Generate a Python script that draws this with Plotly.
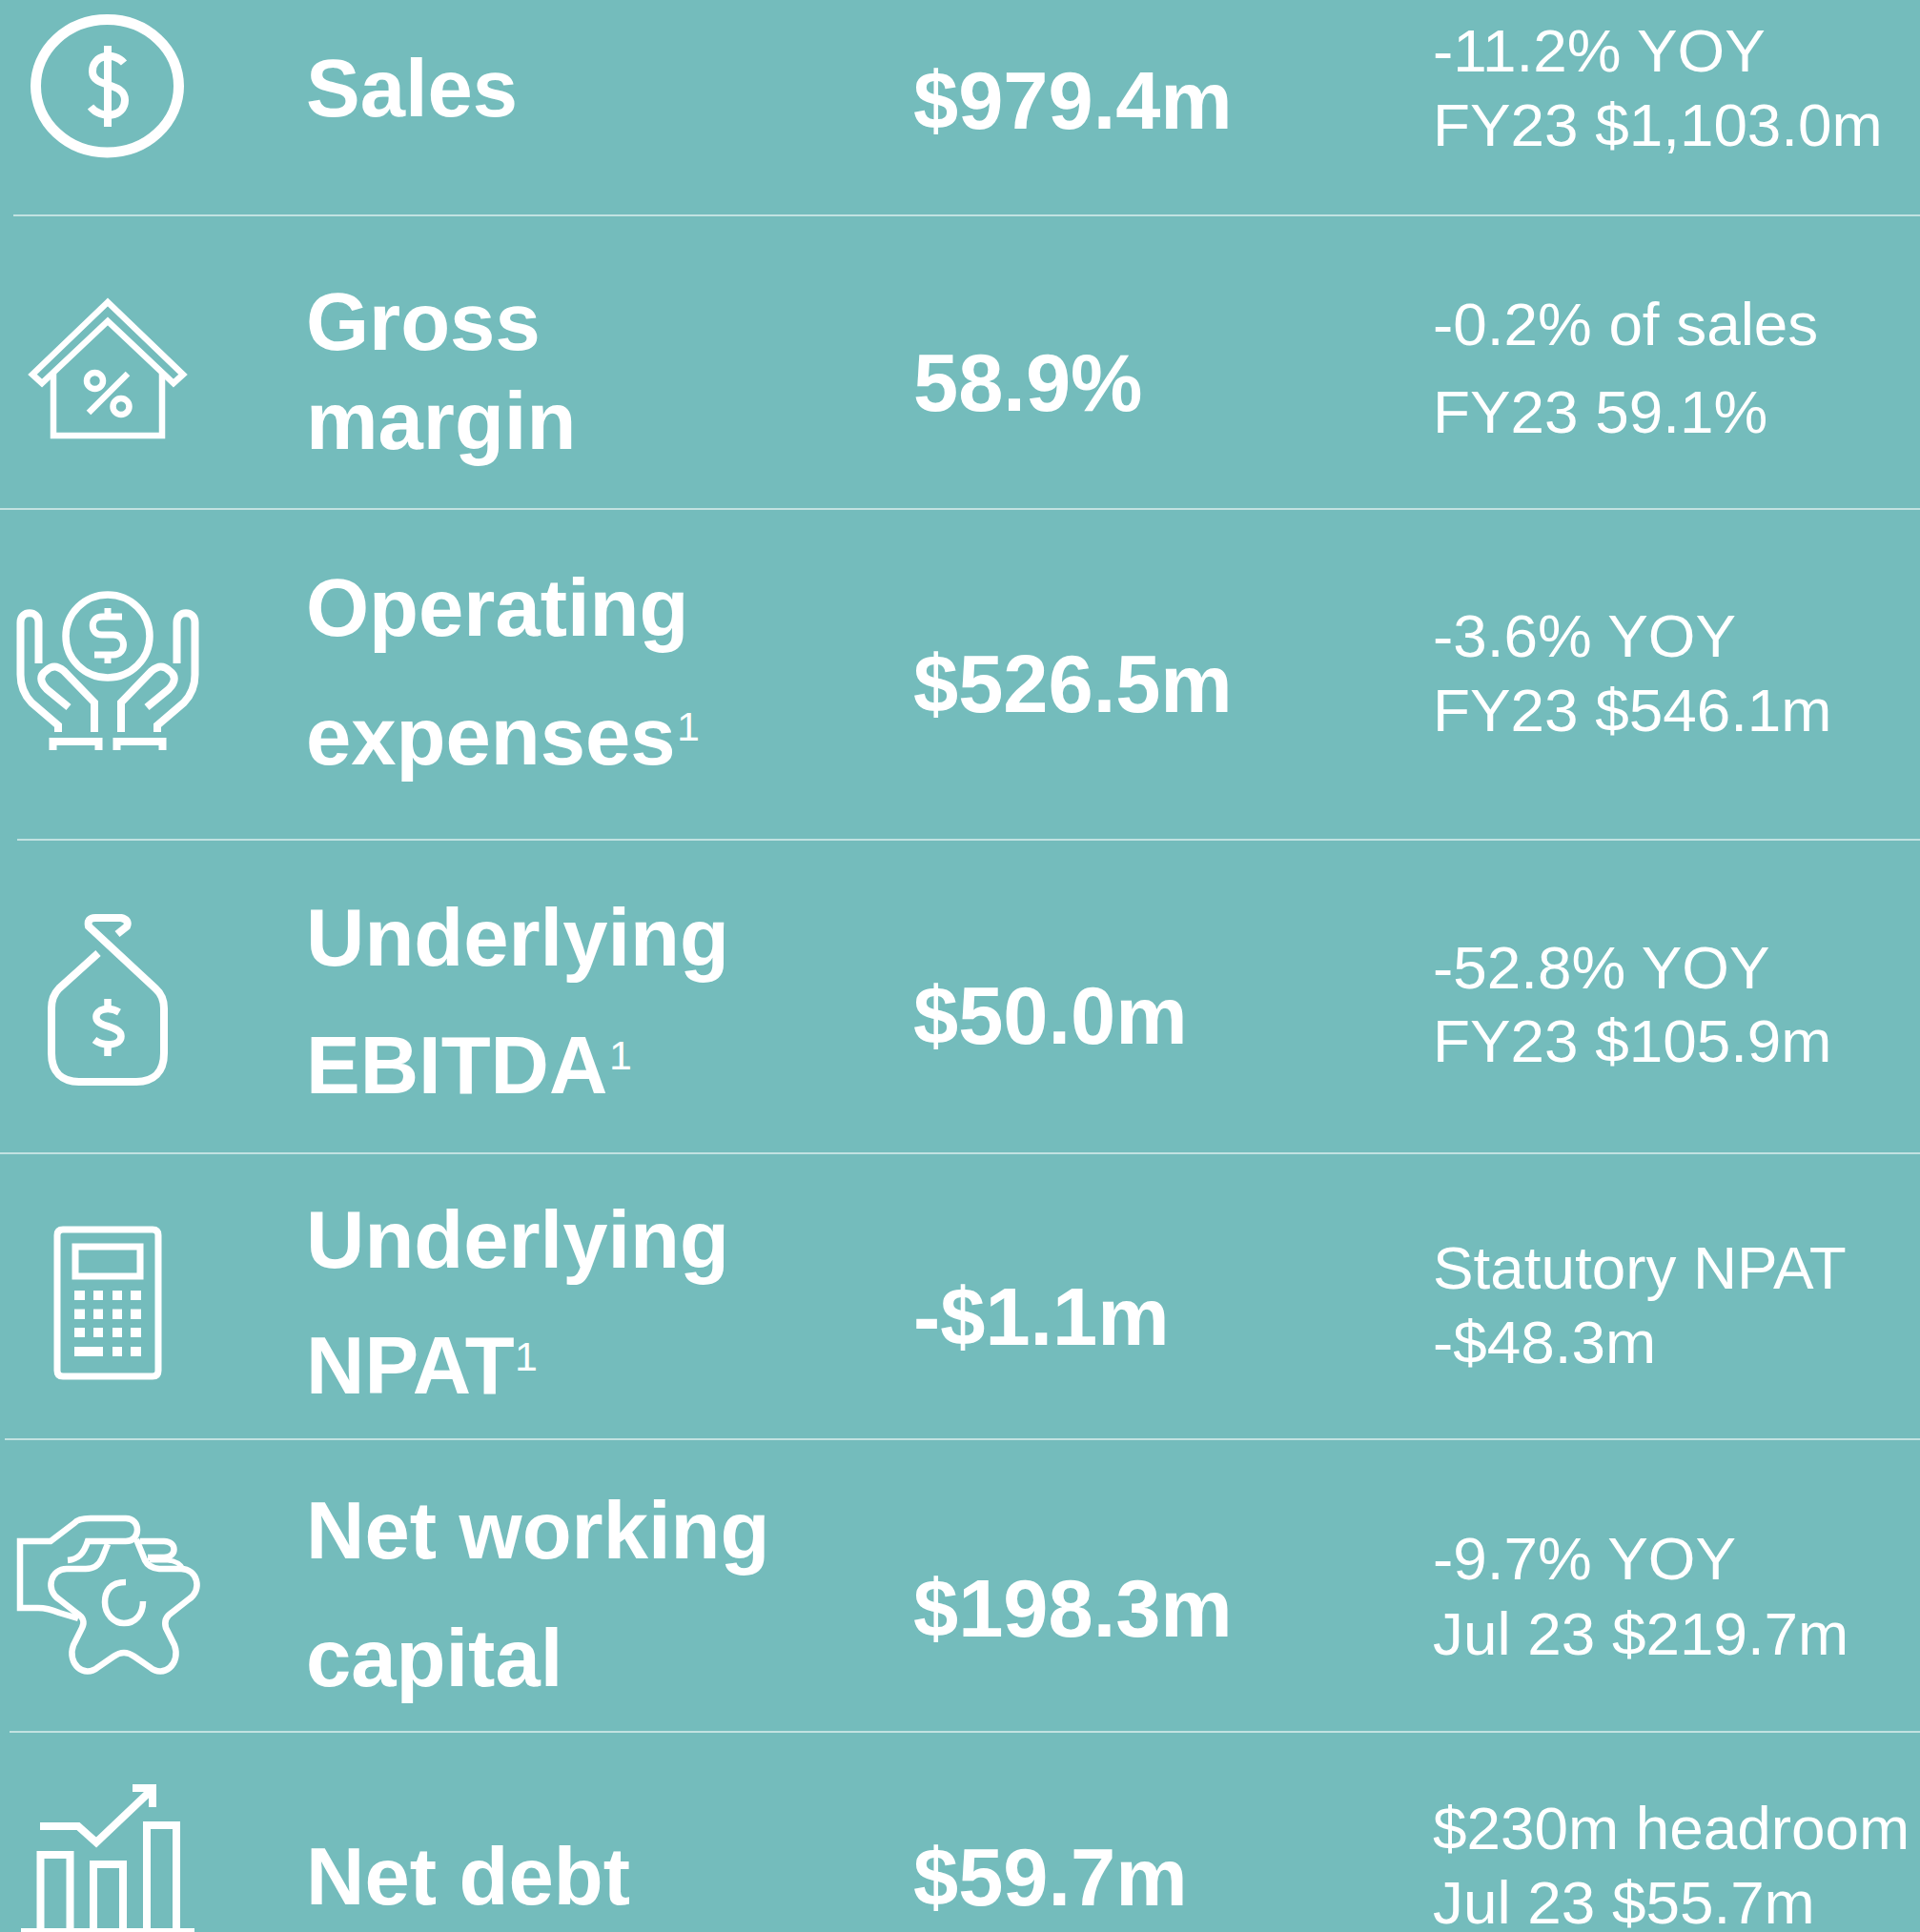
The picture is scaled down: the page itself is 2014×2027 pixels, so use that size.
import plotly.graph_objects as go

W, H = 2014, 2027
BG = "#74BCBC"
WHITE = "#FFFFFF"
FONT = "Liberation Sans"

# ---- content ----
row_titles = [["Sales"], ["Gross", "margin"], ["Operating", "expenses"], ["Underlying", "EBITDA"],
              ["Underlying", "NPAT"], ["Net working", "capital"], ["Net debt"]]
row_values = ["$979.4m", "58.9%", "$526.5m", "$50.0m", "-$1.1m", "$198.3m", "$59.7m"]
row_details = [["-11.2% YOY", "FY23 $1,103.0m"], ["-0.2% of sales", "FY23 59.1%"], ["-3.6% YOY", "FY23 $546.1m"],
               ["-52.8% YOY", "FY23 $105.9m"], ["Statutory NPAT", "-$48.3m"], ["-9.7% YOY", "Jul 23 $219.7m"],
               ["$230m headroom", "Jul 23 $55.7m"]]

# ---- layout positions (pixels) ----
title_y = [[92], [337, 441], [637, 772], [983, 1117], [1300, 1432], [1605, 1739], [1968]]
value_y = [105, 401, 717, 1065, 1381, 1687, 1969]
detail_y = [[53, 131], [340, 432], [667, 745], [1015, 1092], [1330, 1408], [1635, 1714], [1918, 1996]]
sup_pos = [(722, 762), (651, 1107), (552, 1423)]
rule_y = [226, 534, 881, 1210, 1510, 1817]
rule_x0 = [14, 0, 18, 0, 5, 10]
X_TITLE, X_VALUE, X_DETAIL = 321, 958, 1503

fig = go.Figure()


def text(x, y, s, size, bold=False, anchor="left"):
    fig.add_annotation(x=x, y=y, xref="x", yref="y", text=f"<b>{s}</b>" if bold else s, showarrow=False,
                       xanchor=anchor, yanchor="middle", borderpad=0, borderwidth=0,
                       font=dict(family=FONT, size=size, color=WHITE))


for lines, ys in zip(row_titles, title_y):
    for s, y in zip(lines, ys):
        text(X_TITLE, y, s, 85, True)
for v, y in zip(row_values, value_y):
    text(X_VALUE, y, v, 84.8, True)
for lines, ys in zip(row_details, detail_y):
    for s, y in zip(lines, ys):
        text(X_DETAIL, y, s, 63.8)
for x, y in sup_pos:
    text(x, y, "1", 43, anchor="center")

shapes = []
for y, x0 in zip(rule_y, rule_x0):
    shapes.append(dict(type="line", x0=x0, x1=W, y0=y, y1=y, line=dict(color="#DDEFEE", width=1.6)))


def P(cmds):
    return " ".join(
        c[0] + " ".join(f"{v:g}" for v in c[1:]) for c in cmds)


def mirror(cmds, cx=113):
    out = []
    for c in cmds:
        vals = list(c[1:])
        if c[0] == "V":
            out.append(c)
            continue
        if c[0] == "H":
            out.append(("H", 2 * cx - vals[0]))
            continue
        for i in range(0, len(vals), 2):
            vals[i] = 2 * cx - vals[i]
        out.append((c[0], *vals))
    return out


def stroke(cmds, w, fill="rgba(0,0,0,0)"):
    d = cmds if isinstance(cmds, str) else P(cmds)
    shapes.append(dict(type="path", path=d, line=dict(color=WHITE, width=w), fillcolor=fill))


def ell(x0, y0, x1, y1, w):
    shapes.append(dict(type="circle", x0=x0, y0=y0, x1=x1, y1=y1, line=dict(color=WHITE, width=w),
                       fillcolor="rgba(0,0,0,0)"))


def rrect(x0, y0, x1, y1, r):
    return [("M", x0 + r, y0), ("H", x1 - r), ("Q", x1, y0, x1, y0 + r), ("V", y1 - r), ("Q", x1, y1, x1 - r, y1),
            ("H", x0 + r), ("Q", x0, y1, x0, y1 - r), ("V", y0 + r), ("Q", x0, y0, x0 + r, y0), ("Z",)]


# Sales icon
ell(37.5, 20.5, 187.5, 160, 11)
stroke([("M", 130, 66), ("C", 120, 54, 97, 57, 97, 75), ("C", 97, 93, 131, 85, 131, 105),
        ("C", 131, 123, 106, 126, 95, 112)], 8)
stroke([("M", 113, 48), ("V", 133)], 8)

# House icon
stroke([("M", 113, 317), ("L", 34, 393), ("L", 44, 402), ("L", 113, 337), ("L", 182, 402), ("L", 192, 393), ("Z",)], 6.5)
stroke([("M", 56, 392), ("V", 457), ("H", 170), ("V", 392)], 6.5)
ell(91, 391, 108, 408, 6.5)
ell(118.5, 418, 135.5, 435, 6.5)
stroke([("M", 93, 433), ("L", 134, 392)], 6.5)

# Hands icon
ell(69, 624, 157, 711, 7.5)
stroke([("M", 128, 647), ("H", 107), ("C", 94, 647, 94, 666, 107, 666), ("H", 119), ("C", 133, 666, 133, 687, 119, 687),
        ("H", 99)], 7)
stroke([("M", 113, 638), ("V", 647)], 7)
stroke([("M", 113, 687), ("V", 696)], 7)
hand = [("M", 40.5, 696), ("V", 653), ("C", 40.5, 640, 21.5, 640, 21.5, 653), ("V", 708),
        ("Q", 21.5, 725, 33, 737), ("L", 61, 761), ("V", 768)]
thumb = [("M", 72, 742), ("L", 49, 723), ("C", 41, 715, 42, 708, 48, 704), ("C", 54, 698, 60, 698, 67, 704),
         ("L", 99, 737), ("V", 768)]
cuff = [("M", 55.5, 787), ("V", 778), ("H", 103.5), ("V", 787)]
for part in (hand, thumb, cuff):
    stroke(part, 8)
    stroke(mirror(part), 8)

# Money bag icon
stroke([("M", 103, 1000), ("L", 62, 1037), ("Q", 54, 1045, 54, 1058), ("V", 1105), ("C", 54, 1125, 65, 1135, 83, 1135),
        ("H", 143), ("C", 161, 1135, 172, 1125, 172, 1105), ("V", 1058), ("Q", 172, 1045, 163, 1037), ("L", 93, 972),
        ("Q", 91, 963, 100, 963), ("H", 127), ("Q", 136, 965, 133, 972), ("L", 123, 980)], 8)
stroke([("M", 125, 1062), ("C", 115, 1056, 100, 1058, 101, 1068), ("C", 102, 1078, 127, 1076, 127, 1087),
        ("C", 127, 1098, 108, 1098, 99, 1091)], 7.5)
stroke([("M", 113, 1048), ("V", 1058)], 7.5)
stroke([("M", 113, 1097), ("V", 1108)], 7.5)

# Calculator icon
stroke(rrect(60, 1290, 166, 1444, 6), 7)
stroke([("M", 79, 1308), ("H", 147), ("V", 1339), ("H", 79), ("Z",)], 7)
btn_x = [(78, 89), (98, 108), (118, 128), (137, 148)]
btn_y = [(1354, 1364), (1373.5, 1384), (1393, 1403)]
for y0, y1 in btn_y:
    for x0, x1 in btn_x:
        shapes.append(dict(type="rect", x0=x0, x1=x1, y0=y0, y1=y1, fillcolor=WHITE, line_width=0))
for x0, x1 in [(78, 108), (118, 128), (137, 148)]:
    shapes.append(dict(type="rect", x0=x0, x1=x1, y0=1413, y1=1423, fillcolor=WHITE, line_width=0))

# Hand and gear icon
stroke([("M", 82, 1698), ("L", 62, 1692), ("Q", 50, 1687, 40, 1687), ("H", 21), ("V", 1617), ("H", 53), ("L", 78, 1598),
        ("Q", 82, 1593, 95, 1593), ("H", 132), ("C", 148, 1593, 148, 1617, 132, 1617), ("H", 92),
        ("C", 88, 1630, 82, 1636, 71, 1637)], 6.5)
stroke([("M", 113, 1620), ("L", 107, 1635), ("Q", 102, 1646, 90, 1646), ("H", 70), ("C", 53, 1646, 47, 1668, 62, 1678),
        ("L", 80, 1692), ("C", 88, 1697, 89, 1702, 86, 1708), ("L", 77, 1726), ("C", 70, 1745, 88, 1762, 103, 1749),
        ("L", 119, 1738), ("Q", 130, 1730, 141, 1738), ("L", 157, 1749), ("C", 172, 1762, 190, 1745, 183, 1726),
        ("L", 174, 1708), ("Q", 171, 1698, 180, 1692), ("L", 198, 1678), ("C", 213, 1668, 207, 1646, 190, 1646),
        ("H", 167), ("Q", 156, 1645, 152, 1637), ("L", 143, 1615)], 6.5)
stroke([("M", 147, 1617), ("H", 172), ("C", 186, 1617, 186, 1634, 172, 1634), ("H", 155)], 6.5)
stroke([("M", 157, 1637), ("H", 176), ("Q", 188, 1638, 192, 1646)], 5)
stroke([("M", 132, 1660), ("C", 115, 1660, 110, 1670, 110, 1681), ("C", 110, 1694, 120, 1703, 130, 1703),
        ("C", 142, 1703, 150, 1694, 150, 1680)], 6.5)

# Net debt icon
for x0, x1, y0 in [(42.5, 73.5, 1946), (98, 129, 1956), (154, 185, 1915)]:
    stroke([("M", x0, H + 5), ("V", y0), ("H", x1), ("V", H + 5)], 8)
shapes.append(dict(type="rect", x0=22, x1=204, y0=2023, y1=H, fillcolor=WHITE, line_width=0))
stroke([("M", 42, 1916), ("H", 82), ("L", 101, 1933), ("L", 160, 1877)], 8)
stroke([("M", 139, 1876), ("H", 160), ("V", 1896)], 8)

fig.update_layout(
    width=W, height=H, margin=dict(l=0, r=0, t=0, b=0), showlegend=False,
    paper_bgcolor=BG, plot_bgcolor=BG, shapes=shapes,
    xaxis=dict(range=[0, W], visible=False, fixedrange=True),
    yaxis=dict(range=[H, 0], visible=False, fixedrange=True),
)
fig.write_html("out.html", post_script="document.body.style.margin='0';document.body.style.background='" + BG + "';",
               config=dict(displayModeBar=False))
